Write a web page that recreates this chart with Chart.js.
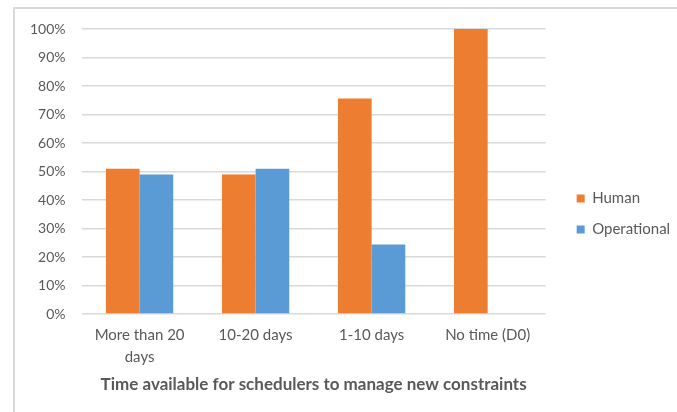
<!DOCTYPE html>
<html>
<head>
<meta charset="utf-8">
<script src="https://cdn.jsdelivr.net/npm/chart.js@4"></script>
<style>
  html, body { margin: 0; padding: 0; background: #fff; }
  #frame {
    position: absolute; left: 13px; top: 7px; width: 664px; height: 405px;
    border-left: 2px solid #d9d9d9; border-top: 2px solid #d9d9d9; box-sizing: border-box;
  }
  #wrap { position: absolute; left: 0; top: 0; width: 677px; height: 412px; }
</style>
</head>
<body>
<div id="frame"></div>
<div id="wrap"><canvas id="chart"></canvas></div>
<script>
// ── Data ──
const categories = [['More than 20', 'days'], '10-20 days', '1-10 days', 'No time (D0)'];
const human = [51, 49, 75.6, 100];
const operational = [49, 51, 24.4, 0];
const seriesNames = ['Human', 'Operational'];
const xTitle = 'Time available for schedulers to manage new constraints';

const TEXT = '#595959';
const FONT = 'Lato, "Open Sans", sans-serif';

new Chart(document.getElementById('chart'), {
  type: 'bar',
  data: {
    labels: categories,
    datasets: [
      { label: seriesNames[0], data: human, backgroundColor: '#ed7d31' },
      { label: seriesNames[1], data: operational, backgroundColor: '#5b9bd5' },
    ],
  },
  options: {
    responsive: true,
    maintainAspectRatio: false,
    animation: false,
    datasets: { bar: { categoryPercentage: 0.58, barPercentage: 1.0 } },
    layout: { padding: { left: 14, top: 29, right: 7, bottom: 13 } },
    plugins: {
      tooltip: { enabled: false },
      legend: {
        position: 'right',
        labels: {
          boxWidth: 8, boxHeight: 8, padding: 16, color: TEXT,
          font: { family: FONT, size: 15 },
        },
      },
    },
    scales: {
      x: {
        grid: { display: false },
        border: { display: false },
        ticks: { color: TEXT, font: { family: FONT, size: 15, lineHeight: 1.45 }, maxRotation: 0, padding: 2 },
        title: {
          display: true, text: xTitle, color: TEXT,
          font: { family: FONT, size: 17, weight: 'bold' }, padding: { top: 5 },
        },
      },
      y: {
        min: 0, max: 100,
        grid: { color: '#d9d9d9', lineWidth: 1.5, drawTicks: false },
        border: { display: false },
        ticks: {
          stepSize: 10, color: TEXT, padding: 16,
          font: { family: FONT, size: 14 },
          callback: v => v + '%',
        },
      },
      // spacer between plot and legend
      gap: {
        position: 'right', display: true,
        grid: { display: false }, border: { display: false },
        ticks: { display: false },
        afterFit: s => { s.width = 15; },
      },
    },
  },
});
</script>
</body>
</html>
